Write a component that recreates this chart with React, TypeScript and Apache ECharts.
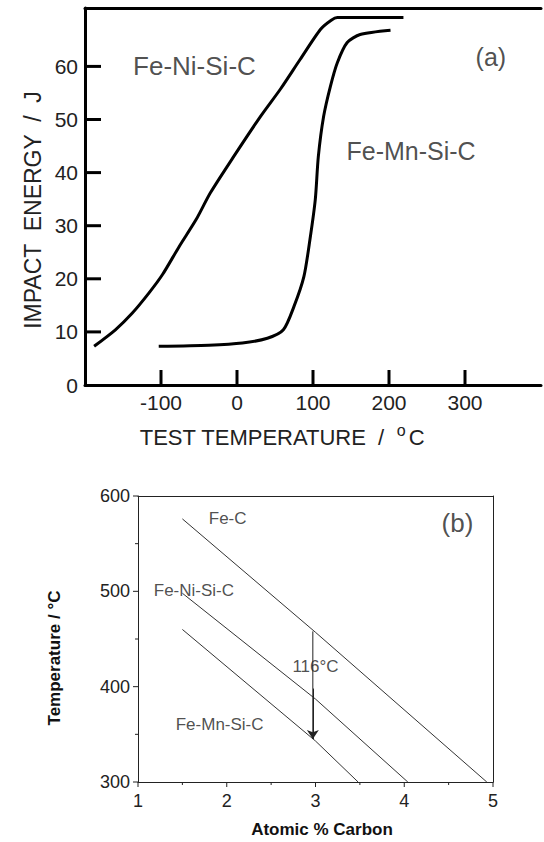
import React, { useEffect, useRef } from 'react';
import * as echarts from 'echarts';

// ---- Chart (a): impact energy vs test temperature ----
const niTemp = [-188, -160, -138, -116, -98, -76, -54, -35, -4, 31, 57, 83, 110, 124, 132, 219];
const niEnergy = [7.3, 10.4, 13.5, 17.3, 20.8, 26.1, 31.1, 36.2, 43.1, 50.6, 55.7, 61.3, 67, 68.7, 69.2, 69.2];
const mnTemp = [-103, -37, 7, 40, 61, 75, 88, 96, 103, 107, 114, 123, 132, 145, 162, 202];
const mnEnergy = [7.3, 7.5, 7.9, 8.8, 10.4, 14.8, 20.4, 27.4, 34.9, 43, 50.6, 56.3, 60.7, 64.5, 66, 66.8];
const tempTicks = [-100, 0, 100, 200, 300];
const energyTicks = [0, 10, 20, 30, 40, 50, 60];
const labelsA = ['Fe-Ni-Si-C', 'Fe-Mn-Si-C', '(a)'];
const labelAtA = [[-56, 60], [229, 44], [334, 61.8]];

// ---- Chart (b): temperature vs atomic % carbon ----
const carbonFeC = [1.5, 3.0, 4.93];
const tempFeC = [576, 457, 300];
const carbonNi = [1.5, 3.0, 4.04];
const tempNi = [498, 387, 300];
const carbonMn = [1.5, 3.0, 3.48];
const tempMn = [460, 343, 300];
const carbonTicks = [1, 2, 3, 4, 5];
const carbonMinorTicks = [1.5, 2.5, 3.5, 4.5];
const tempBTicks = [300, 400, 500, 600];
const tempBMinorTicks = [350, 450, 550];
const arrowCarbon = 2.97;
const arrowFrom = 458;
const arrowTo = 345;
const labelsB = ['Fe-C', 'Fe-Ni-Si-C', 'Fe-Mn-Si-C', '(b)', '116°C'];
const labelAtB = [[2.01, 576], [1.63, 501], [1.92, 360], [4.6, 572], [3.0, 421]];

const FONT = 'Liberation Sans';

export default function App() {
  const ref = useRef<HTMLDivElement>(null);
  useEffect(() => {
    if (!ref.current) return;
    const chart = echarts.init(ref.current, undefined, { renderer: 'svg' });
    const zip = (a: number[], b: number[]) => a.map((v, i) => [v, b[i]]);
    const sizesA = [26, 25, 25];
    const sizesB = [17, 17, 17, 26, 17];

    // tick-mark series drawn through the axes' own scales
    const tickSeries = (
      name: string, xi: number, yi: number, data: number[][],
      dx: number, dy: number, width: number, color: string,
    ) => ({
      name, type: 'custom', xAxisIndex: xi, yAxisIndex: yi, clip: false, silent: true,
      data, encode: { x: 0, y: 1 },
      renderItem: (_p: any, api: any) => {
        const pt = api.coord([api.value(0), api.value(1)]);
        return {
          type: 'line',
          shape: { x1: pt[0], y1: pt[1], x2: pt[0] + dx, y2: pt[1] + dy },
          style: { stroke: color, lineWidth: width },
        };
      },
    });

    const option: any = {
      animation: false,
      backgroundColor: '#fff',
      textStyle: { fontFamily: FONT },
      grid: [
        { left: 85, top: 8, width: 464, height: 377 },
        { left: 138, top: 496, width: 355, height: 286 },
      ],
      xAxis: [
        {
          gridIndex: 0, type: 'value', min: -200, max: 400, interval: 100, position: 'bottom',
          axisLine: { show: true, onZero: false, lineStyle: { color: '#000', width: 3 } },
          axisTick: { show: false },
          axisLabel: {
            show: true, fontSize: 21, color: '#222', margin: 7, fontFamily: FONT,
            formatter: (v: number) => (tempTicks.includes(v) ? String(v) : ''),
          },
          splitLine: { show: false },
        },
        {
          gridIndex: 0, type: 'value', min: -200, max: 400, position: 'top',
          axisLine: { show: true, onZero: false, lineStyle: { color: '#000', width: 3 } },
          axisTick: { show: false }, axisLabel: { show: false }, splitLine: { show: false },
        },
        {
          gridIndex: 1, type: 'value', min: 1, max: 5, interval: 1, position: 'bottom',
          axisLine: { show: true, onZero: false, lineStyle: { color: '#222', width: 1 } },
          axisTick: { show: false },
          axisLabel: { fontSize: 18, color: '#222', margin: 10, fontFamily: FONT },
          splitLine: { show: false },
        },
        {
          gridIndex: 1, type: 'value', min: 1, max: 5, position: 'top',
          axisLine: { show: true, onZero: false, lineStyle: { color: '#222', width: 1 } },
          axisTick: { show: false }, axisLabel: { show: false }, splitLine: { show: false },
        },
      ],
      yAxis: [
        {
          gridIndex: 0, type: 'value', min: 0, max: 71, interval: 10, position: 'left',
          axisLine: { show: true, onZero: false, lineStyle: { color: '#000', width: 3 } },
          axisTick: { show: false },
          axisLabel: {
            show: true, fontSize: 21, color: '#222', margin: 7, fontFamily: FONT,
            formatter: (v: number) => (energyTicks.includes(v) ? String(v) : ''),
          },
          splitLine: { show: false },
        },
        {
          gridIndex: 1, type: 'value', min: 300, max: 600, interval: 100, position: 'left',
          axisLine: { show: true, onZero: false, lineStyle: { color: '#222', width: 1 } },
          axisTick: { show: false },
          axisLabel: { fontSize: 18, color: '#222', margin: 8, fontFamily: FONT },
          splitLine: { show: false },
        },
        {
          gridIndex: 1, type: 'value', min: 300, max: 600, position: 'right',
          axisLine: { show: true, onZero: false, lineStyle: { color: '#222', width: 1 } },
          axisTick: { show: false }, axisLabel: { show: false }, splitLine: { show: false },
        },
      ],
      series: [
        tickSeries('ticks x (a)', 0, 0, tempTicks.map((v) => [v, 0]), 0, -15, 3, '#000'),
        tickSeries('ticks y (a)', 0, 0, energyTicks.filter((v) => v > 0).map((v) => [-200, v]), 16, 0, 3, '#000'),
        tickSeries('ticks x (b)', 2, 1, carbonTicks.map((v) => [v, 300]), 0, 5, 1, '#222'),
        tickSeries('minor ticks x (b)', 2, 1, carbonMinorTicks.map((v) => [v, 300]), 0, 3, 1, '#222'),
        tickSeries('ticks y (b)', 2, 1, tempBTicks.map((v) => [1, v]), -5, 0, 1, '#222'),
        tickSeries('minor ticks y (b)', 2, 1, tempBMinorTicks.map((v) => [1, v]), -3, 0, 1, '#222'),
        {
          name: 'Fe-Ni-Si-C (a)', type: 'line', xAxisIndex: 0, yAxisIndex: 0,
          data: zip(niTemp, niEnergy), showSymbol: false, smooth: 0.25,
          lineStyle: { color: '#000', width: 3 },
        },
        {
          name: 'Fe-Mn-Si-C (a)', type: 'line', xAxisIndex: 0, yAxisIndex: 0,
          data: zip(mnTemp, mnEnergy), showSymbol: false, smooth: 0.25,
          lineStyle: { color: '#000', width: 3 },
        },
        {
          name: 'labels (a)', type: 'scatter', xAxisIndex: 0, yAxisIndex: 0, symbolSize: 0,
          data: labelsA.map((n, i) => ({ name: n, value: labelAtA[i], label: { fontSize: sizesA[i] } })),
          label: {
            show: true, position: 'inside', formatter: '{b}', color: '#222',
            fontFamily: FONT,
          },
        },
        {
          name: 'Fe-C', type: 'line', xAxisIndex: 2, yAxisIndex: 1,
          data: zip(carbonFeC, tempFeC), showSymbol: false,
          lineStyle: { color: '#333', width: 1 },
        },
        {
          name: 'Fe-Ni-Si-C (b)', type: 'line', xAxisIndex: 2, yAxisIndex: 1,
          data: zip(carbonNi, tempNi), showSymbol: false,
          lineStyle: { color: '#333', width: 1 },
        },
        {
          name: 'Fe-Mn-Si-C (b)', type: 'line', xAxisIndex: 2, yAxisIndex: 1,
          data: zip(carbonMn, tempMn), showSymbol: false,
          lineStyle: { color: '#333', width: 1 },
        },
        {
          name: 'arrow', type: 'line', xAxisIndex: 2, yAxisIndex: 1,
          data: [[arrowCarbon, arrowFrom], [arrowCarbon, arrowTo]],
          showSymbol: false, symbol: 'none',
          lineStyle: { color: '#222', width: 1 },
          markLine: {
            silent: true, symbol: ['none', 'arrow'], symbolSize: 9,
            label: { show: false },
            itemStyle: { color: '#222' },
            lineStyle: { color: '#222', width: 1, type: 'solid' },
            data: [[{ coord: [arrowCarbon, arrowFrom - 60] }, { coord: [arrowCarbon, arrowTo] }]],
          },
        },
        {
          name: 'labels (b)', type: 'scatter', xAxisIndex: 2, yAxisIndex: 1, symbolSize: 0,
          data: labelsB.map((n, i) => ({
            name: n, value: labelAtB[i],
            label: { fontSize: sizesB[i] },
          })),
          label: {
            show: true, position: 'inside', formatter: '{b}', color: '#222',
            fontFamily: FONT, fontSize: 17,
          },
        },
      ],
      graphic: [
        {
          type: 'text', x: 33, y: 210, rotation: Math.PI / 2,
          style: {
            text: 'IMPACT  ENERGY  /  J', fill: '#222', font: `23px "${FONT}"`,
            textAlign: 'center', textVerticalAlign: 'middle', align: 'center', verticalAlign: 'middle',
          },
        },
        {
          type: 'text', x: 282, y: 437,
          style: {
            text: 'TEST TEMPERATURE  /  {s|o}C', fill: '#222', font: `22px "${FONT}"`,
            fontSize: 22, fontFamily: FONT,
            textAlign: 'center', textVerticalAlign: 'middle', align: 'center', verticalAlign: 'middle',
            rich: { s: { fontSize: 16, fontFamily: FONT, fill: '#222', padding: [0, 3, 14, 0] } },
          },
        },
        {
          type: 'text', x: 54, y: 658, rotation: Math.PI / 2,
          style: {
            text: 'Temperature / °C', fill: '#111', font: `bold 17px "${FONT}"`,
            textAlign: 'center', textVerticalAlign: 'middle', align: 'center', verticalAlign: 'middle',
          },
        },
        {
          type: 'text', x: 322, y: 829,
          style: {
            text: 'Atomic % Carbon', fill: '#111', font: `bold 17px "${FONT}"`,
            textAlign: 'center', textVerticalAlign: 'middle', align: 'center', verticalAlign: 'middle',
          },
        },
      ],
    };
    chart.setOption(option);
    return () => chart.dispose();
  }, []);
  return (
    <div
      ref={ref}
      style={{ position: 'fixed', left: 0, top: 0, width: 544, height: 842, background: '#fff' }}
    />
  );
}
